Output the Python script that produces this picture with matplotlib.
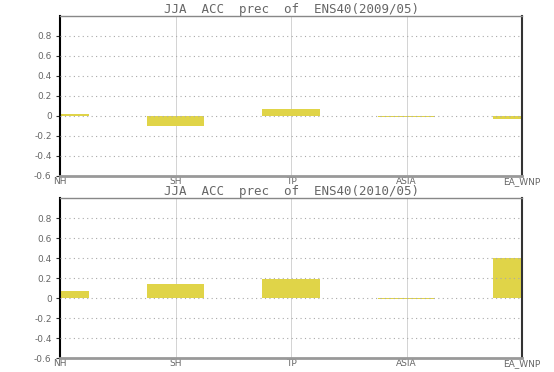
import numpy as np
import matplotlib.pyplot as plt

regions = ['NH', 'SH', 'TP', 'ASIA', 'EA_WNP']
acc_2009 = [0.015, -0.10, 0.065, -0.007, -0.03]
acc_2010 = [0.07, 0.14, 0.195, -0.005, 0.40]
titles = ['JJA  ACC  prec  of  ENS40(2009/05)', 'JJA  ACC  prec  of  ENS40(2010/05)']

bar_color = '#e0d448'
text_color = '#666666'

fig = plt.figure(figsize=(5.54, 3.72), dpi=100)
ax1 = fig.add_axes([0.1083, 0.527, 0.834, 0.430])
ax2 = fig.add_axes([0.1083, 0.0376, 0.834, 0.430])

x = np.arange(len(regions))
yticks = np.arange(-0.6, 0.81, 0.2)

for ax, vals, title in zip([ax1, ax2], [acc_2009, acc_2010], titles):
    ax.bar(x, vals, width=0.5, color=bar_color, zorder=2)
    ax.set_xlim(0, len(regions) - 1)
    ax.set_ylim(-0.6, 1.0)

    # dotted horizontal grid, thin solid vertical lines at each region
    for yv in yticks[1:]:
        ax.axhline(yv, color='#aaaaaa', lw=0.8, ls=(0, (1, 3)), zorder=3)
    for xv in x[1:-1]:
        ax.axvline(xv, color='#cccccc', lw=0.6, zorder=1)

    ax.set_yticks(yticks)
    ax.set_yticklabels(['0' if abs(v) < 1e-9 else '%g' % round(v, 1) for v in yticks])
    ax.set_xticks(x)
    ax.set_xticklabels(regions)
    ax.tick_params(axis='y', direction='out', length=3, width=0.8, color='#333333',
                   labelsize=6.5, labelcolor=text_color, pad=3)
    ax.tick_params(axis='x', length=0, labelsize=6.5, labelcolor=text_color, pad=0.5)

    ax.spines['left'].set_color('black')
    ax.spines['left'].set_linewidth(1.5)
    ax.spines['right'].set_color('#333333')
    ax.spines['right'].set_linewidth(1.5)
    ax.spines['top'].set_color('#888888')
    ax.spines['top'].set_linewidth(1.0)
    ax.spines['bottom'].set_color('#999999')
    ax.spines['bottom'].set_linewidth(2.0)

    ax.set_title(title, family='DejaVu Sans Mono', fontsize=9, color=text_color,
                 fontweight='light', pad=0)

fig.savefig('out.png', dpi=100)
